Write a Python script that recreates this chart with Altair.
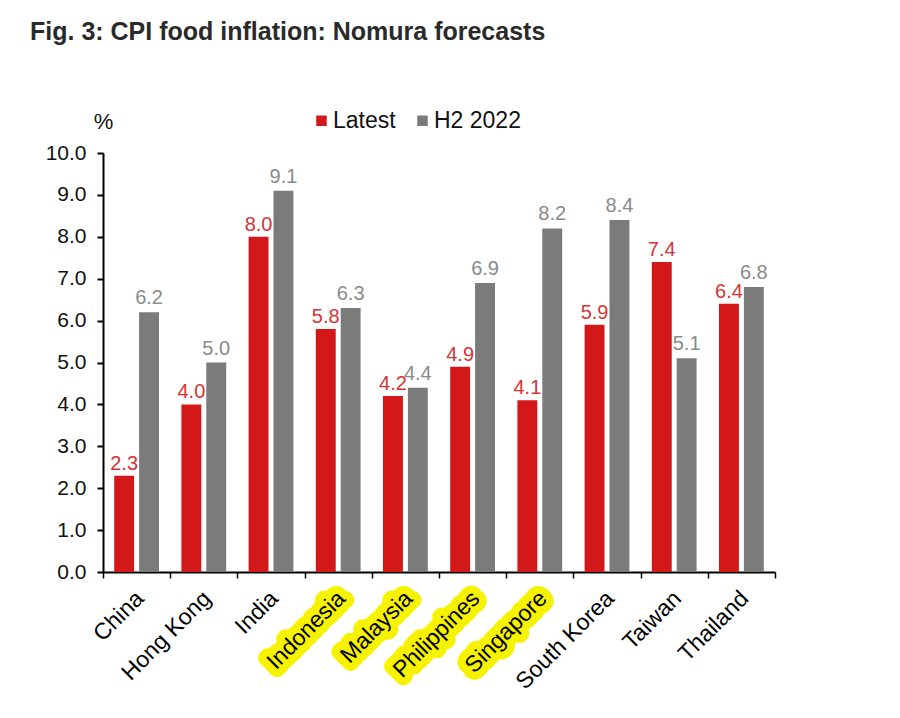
import altair as alt
import pandas as pd

title_text = "Fig. 3: CPI food inflation: Nomura forecasts"
categories = ["China", "Hong Kong", "India", "Indonesia", "Malaysia",
              "Philippines", "Singapore", "South Korea", "Taiwan", "Thailand"]
latest = [2.3, 4.0, 8.0, 5.8, 4.2, 4.9, 4.1, 5.9, 7.4, 6.4]
h2_2022 = [6.2, 5.0, 9.1, 6.3, 4.4, 6.9, 8.2, 8.4, 5.1, 6.8]
highlighted = ["Indonesia", "Malaysia", "Philippines", "Singapore"]
series_names = ["Latest", "H2 2022"]
y_ticks = [0, 1, 2, 3, 4, 5, 6, 7, 8, 9, 10]

RED = "#d21818"
GRAY = "#7b7b7b"
RED_TXT = "#d43434"
GRAY_TXT = "#8a8a8a"
FONT = "Liberation Sans"

rows = []
for c, a, b in zip(categories, latest, h2_2022):
    rows.append({"cat": c, "series": "Latest", "value": a})
    rows.append({"cat": c, "series": "H2 2022", "value": b})
df = pd.DataFrame(rows)
cat_df = pd.DataFrame({"cat": categories, "hl": [c in highlighted for c in categories]})
title_df = pd.DataFrame({"t": [title_text]})

W, H = 672, 419

xaxis = alt.Axis(labels=False, title=None, tickBand="extent", domainColor="black",
                 domainWidth=2, tickColor="black", tickWidth=1.5, tickSize=6)
xscale = alt.Scale(paddingInner=0, paddingOuter=0)
yaxis = alt.Axis(values=y_ticks, format=".1f", title="%", grid=False,
                 domainColor="black", domainWidth=2, tickColor="black", tickWidth=2,
                 tickSize=6, labelFontSize=21, labelFont=FONT, labelColor="#111",
                 labelPadding=11, titleAngle=0, titleX=0, titleY=-25, titleAlign="center",
                 titleBaseline="alphabetic", titleFontSize=22, titleFont=FONT,
                 titleFontWeight="normal", titleColor="#111")
yscale = alt.Scale(domain=[0, 10], nice=False)
xoff = alt.XOffset("series:N", sort=series_names,
                   scale=alt.Scale(paddingInner=0.2, paddingOuter=0.45))

base = alt.Chart(df)
x_enc = alt.X("cat:N", sort=categories, scale=xscale, axis=xaxis)
y_enc = alt.Y("value:Q", scale=yscale, axis=yaxis)

bars = base.mark_bar().encode(
    x=x_enc, xOffset=xoff, y=y_enc,
    color=alt.Color("series:N", sort=series_names,
                    scale=alt.Scale(domain=series_names, range=[RED, GRAY]),
                    legend=alt.Legend(title=None, orient="none", legendX=207, legendY=-44,
                                      direction="horizontal", symbolType="square",
                                      symbolSize=110, symbolStrokeWidth=0, labelFontSize=23,
                                      labelFont=FONT, labelColor="#111", labelOffset=0,
                                      columnPadding=15, padding=0)),
)

lab_latest = base.transform_filter(alt.datum.series == "Latest").mark_text(
    baseline="alphabetic", dy=-6, fontSize=20, font=FONT, color=RED_TXT
).encode(x=x_enc, xOffset=xoff, y=y_enc, text=alt.Text("value:Q", format=".1f"))

lab_h2 = base.transform_filter(alt.datum.series == "H2 2022").mark_text(
    baseline="alphabetic", dy=-8, fontSize=20, font=FONT, color=GRAY_TXT
).encode(x=x_enc, xOffset=xoff, y=y_enc, text=alt.Text("value:Q", format=".1f"))

cx = alt.X("cat:N", sort=categories, scale=xscale, axis=xaxis, bandPosition=0.625)

hl_layer = alt.Chart(cat_df).transform_filter(alt.datum.hl).mark_text(
    angle=315, align="right", baseline="alphabetic", fontSize=23, font=FONT,
    color="#f6f200", stroke="#f6f200", strokeWidth=16, strokeJoin="round", strokeCap="round"
).encode(x=cx, y=alt.value(H + 28), text="cat:N")

cat_labels = alt.Chart(cat_df).mark_text(
    angle=315, align="right", baseline="alphabetic", fontSize=23, font=FONT, color="#000"
).encode(x=cx, y=alt.value(H + 28), text="cat:N")

title = alt.Chart(title_df).mark_text(
    align="left", baseline="alphabetic", fontSize=25, font=FONT, fontWeight="bold",
    color="#2a2a2a"
).encode(x=alt.value(-73), y=alt.value(-113), text="t:N")

chart = alt.layer(bars, lab_latest, lab_h2, hl_layer, cat_labels, title).properties(
    width=W, height=H,
    autosize=alt.AutoSizeParams(type="none"),
    padding={"left": 95, "top": 145, "right": 20, "bottom": 145},
).configure_view(stroke=None)

chart.save("out.html", embed_options={"renderer": "svg", "actions": False})
